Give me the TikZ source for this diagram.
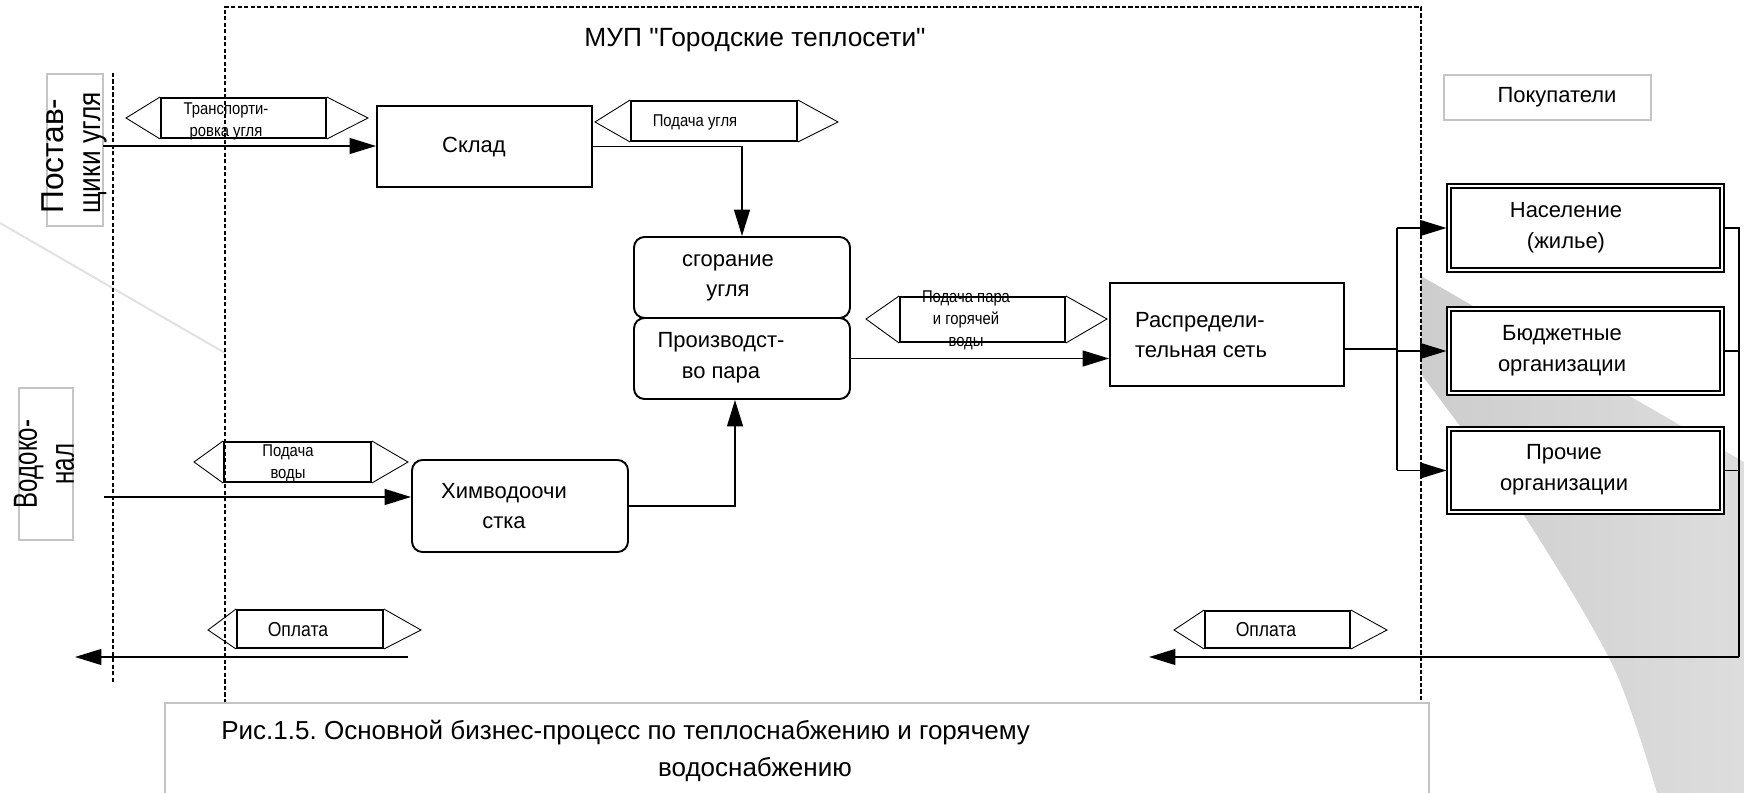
\documentclass[tikz,border=0pt]{standalone}
\usepackage{graphicx}
\usepackage{fontspec}
\setmainfont{Liberation Sans}
\newfontfamily\narf{Liberation Sans}[FakeStretch=0.87]
\newfontfamily\quotef{Liberation Sans}[Ligatures=TeXOff]
\frenchspacing
\usetikzlibrary{arrows.meta,fit,calc}
\definecolor{lightframe}{HTML}{C4C4C4}
\definecolor{faintline}{HTML}{E2E2E2}
\definecolor{shadeleft}{HTML}{CDCDCD}
\definecolor{shaderight}{HTML}{DDDDDD}
\tikzset{
 box/.style={draw, line width=1.1pt, inner sep=0pt, fill=white},
 rbox/.style={box, rounded corners=6pt},
 obox/.style={draw, line width=0.6pt, inner sep=0pt, fill=white},
 lbox/.style={draw=lightframe, line width=0.6pt, inner sep=0pt, fill=white},
 srect/.style={draw, line width=1.1pt, inner sep=0pt},
 stri/.style={line width=0.5pt},
 conn/.style={line width=1pt},
 arr/.style={conn, -{Triangle[length=15pt,width=9pt]}},
 txt/.style={font=\fontsize{12.5}{17.5}\selectfont, align=center, inner sep=0pt},
 stxt/.style={font=\narf\fontsize{9.7}{12.5}\selectfont, align=center, inner sep=0pt},
 ptxt/.style={font=\narf\fontsize{11.5}{13}\selectfont, inner sep=0pt},
 dsh/.style={line width=1pt, dash pattern=on 2.5pt off 1.2pt},
}
\begin{document}
\begin{tikzpicture}[x=0.02cm,y=-0.02cm]
\useasboundingbox (0,0) rectangle (1744,793);
% decorative background
\shade[left color=shadeleft, right color=shaderight] (1421,276) -- (1744,462) -- (1744,793) -- plot[smooth] coordinates {(1657,793) (1613,666) (1523,514) (1421,374)} -- cycle;
\draw[faintline, line width=1.2pt] (0,223) -- (225,353);
% organisation frame
\fill[white] (225,7) rectangle (1421,703);
\draw[dsh] (225,703) -- (225,7) -- (1421,7) -- (1421,703);
\draw[dsh] (113,73) -- (113,682);
\node[font=\quotef\fontsize{15}{18}\selectfont, inner sep=0pt] (title) at (755,40) {МУП "Городские теплосети"};
% outside parties
\node[lbox, fit={(47,74) (103,226)}] (supbox) {};
\node[rotate=90, align=left, inner sep=0pt, font=\fontsize{18}{21}\selectfont] (supt) at (74,153) {Постав-\\\scalebox{0.83}[1]{щики угля}};
\node[lbox, fit={(19,388) (73,540)}] (vodbox) {};
\node[rotate=90, align=center, inner sep=0pt, font=\fontsize{19}{21}\selectfont] (vodt) at (44,464) {\scalebox{0.72}[1]{Водоко-}\\\scalebox{0.72}[1]{нал}};
\node[lbox, fit={(1444,75) (1651,120)}] (buybox) {};
\node[txt] (buyt) at (1557,97) {Покупатели};
% main boxes
\node[box, fit={(377,106) (592,187)}] (sklad) {};
\node[txt] (skladt) at (474,147) {Склад};
\node[rbox, fit={(634,237) (850,318)}] (burn) {};
\node[txt] (burnt) at (728,278) {сгорание\\угля};
\node[rbox, fit={(634,318) (850,399)}] (prod) {};
\node[txt] (prodt) at (721,358) {Производст-\\во пара};
\node[rbox, fit={(412,460) (628,552)}] (chem) {};
\node[txt] (chemt) at (504,506) {Химводоочи\\стка};
\node[box, fit={(1110,283) (1344,386)}] (dist) {};
\node[txt, align=left] (distt) at (1201,335) {Распредели-\\тельная сеть};
% customers (double frames)
\node[obox, fit={(1447,184) (1724,272)}] (popo) {};
\node[box, fit={(1451,188) (1720,268)}] (pop) {};
\node[txt] (popt) at (1566,228) {Население\\(жилье)};
\node[obox, fit={(1447,307) (1724,395)}] (budo) {};
\node[box, fit={(1451,311) (1720,391)}] (bud) {};
\node[txt] (budt) at (1562,351) {Бюджетные\\организации};
\node[obox, fit={(1447,427) (1724,514)}] (prcho) {};
\node[box, fit={(1451,431) (1720,510)}] (prch) {};
\node[txt] (prcht) at (1564,470) {Прочие\\организации};
% flow signs
\node[srect, fit={(161,98) (326,138)}] (s1) {};
\draw[stri] (s1.north west) -- (126,118) -- (s1.south west);
\draw[stri] (s1.north east) -- (368,118) -- (s1.south east);
\node[stxt] (s1t) at (226,121) {Транспорти-\\ровка угля};
\node[srect, fit={(631,101) (797,141)}] (s2) {};
\draw[stri] (s2.north west) -- (595,122) -- (s2.south west);
\draw[stri] (s2.north east) -- (838,122) -- (s2.south east);
\node[stxt] (s2t) at (695,122) {Подача угля};
\node[srect, fit={(900,297) (1065,342)}] (s3) {};
\draw[stri] (s3.north west) -- (866,319) -- (s3.south west);
\draw[stri] (s3.north east) -- (1107,319) -- (s3.south east);
\node[stxt] (s3t) at (966,320) {Подача пара\\и горячей\\воды};
\node[srect, fit={(224,442) (371,482)}] (s4) {};
\draw[stri] (s4.north west) -- (194,462) -- (s4.south west);
\draw[stri] (s4.north east) -- (408,462) -- (s4.south east);
\node[stxt] (s4t) at (288,463) {Подача\\воды};
\node[srect, fit={(237,610) (383,648)}] (s5) {};
\draw[stri] (s5.north west) -- (208,630) -- (s5.south west);
\draw[stri] (s5.north east) -- (421,630) -- (s5.south east);
\node[ptxt] (s5t) at (298,630) {Оплата};
\node[srect, fit={(1205,611) (1350,648)}] (s6) {};
\draw[stri] (s6.north west) -- (1174,630) -- (s6.south west);
\draw[stri] (s6.north east) -- (1387,630) -- (s6.south east);
\node[ptxt] (s6t) at (1266,630) {Оплата};
% connectors
\coordinate (tstart) at (103,146);
\draw[arr] (tstart) -- (tstart -| sklad.west);
\draw[arr] (sklad.east) -| (burn.north);
\coordinate (wstart) at (104,497);
\draw[arr] (wstart) -- (wstart -| chem.west);
\draw[arr] (chem.east) -| ($(prod.south)+(-7,0)$);
\draw[arr] (prod.east) -- (prod.east -| dist.west);
\coordinate (busx) at (1397,349);
\draw[conn] (busx -| dist.east) -- (busx);
\draw[conn] (popo.west -| busx) -- (prcho.west -| busx);
\draw[arr] (popo.west -| busx) -- (popo.west);
\draw[arr] (budo.west -| busx) -- (budo.west);
\draw[arr] (prcho.west -| busx) -- (prcho.west);
\coordinate (retx) at (1739,657);
\draw[conn] (popo.east) -- (popo.east -| retx) -- (retx);
\draw[conn] (budo.east) -- (budo.east -| retx);
\draw[conn] (prcho.east) -- (prcho.east -| retx);
\coordinate (payRtip) at (1149,657);
\draw[arr] (retx) -- (payRtip);
\coordinate (payLstart) at (408,657);
\coordinate (payLtip) at (75,657);
\draw[arr] (payLstart) -- (payLtip);
% caption
\node[lbox, fit={(165,703) (1429,800)}] (capbox) {};
\node[font=\fontsize{14.8}{18}\selectfont, anchor=west, inner sep=0pt] (cap1) at (221,733) {Рис.1.5. Основной бизнес-процесс по теплоснабжению и горячему};
\node[font=\fontsize{14.8}{18}\selectfont, inner sep=0pt] (cap2) at (755,770) {водоснабжению};
\end{tikzpicture}
\end{document}
